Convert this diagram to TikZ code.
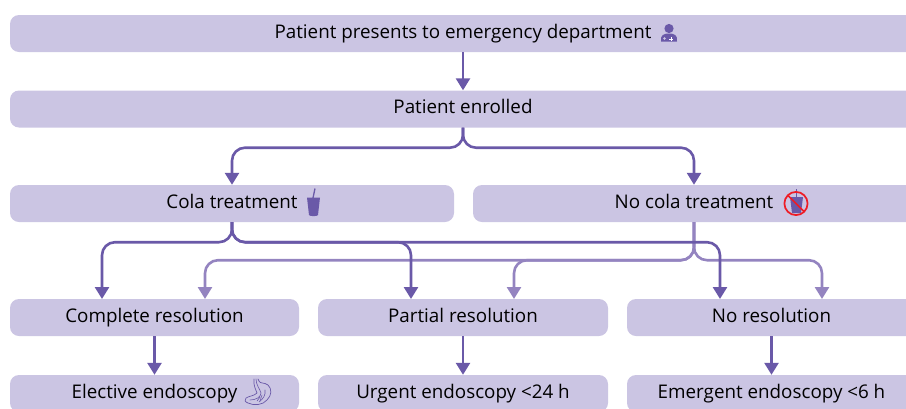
\documentclass[tikz,border=0pt]{standalone}
\usepackage{fontspec}
\setmainfont{Open Sans}
\usetikzlibrary{arrows.meta}
\definecolor{boxc}{HTML}{CBC5E3}
\definecolor{dark}{HTML}{6A59A8}
\definecolor{lite}{HTML}{9484C0}
\definecolor{noc}{HTML}{EE1C25}
\tikzset{
  x=1pt,y=-1pt,
  bx/.style={fill=boxc,rounded corners=9pt,inner sep=0pt,minimum height=37pt,font=\fontsize{18.8}{22}\selectfont,text=black,text height=13.4pt,text depth=3.6pt},
  da/.style={draw=dark,line width=2.6pt,-{Triangle[width=14pt,length=12pt]},rounded corners=13pt},
  la/.style={draw=lite,line width=2.6pt,-{Triangle[width=14pt,length=12pt]},rounded corners=13pt},
}
\begin{document}
\begin{tikzpicture}
\useasboundingbox (0,0) rectangle (906,408);
\clip (0,0) rectangle (906,408);
\node[bx,minimum width=906pt] (top) at (463,33.5) {Patient presents to emergency department};
\node[bx,minimum width=906pt] (en) at (463,109) {Patient enrolled};
\node[bx,minimum width=444pt] (cola) at (232,203.5) {Cola treatment};
\node[bx,minimum width=442pt] (no) at (694,203.5) {No cola treatment};
\node[bx,minimum width=289pt] (cr) at (154.5,317.5) {Complete resolution};
\node[bx,minimum width=290pt] (pr) at (463,317.5) {Partial resolution};
\node[bx,minimum width=289pt] (nr) at (771.5,317.5) {No resolution};
\node[bx,minimum width=289pt] (ee) at (154.5,393.5) {Elective endoscopy};
\node[bx,minimum width=290pt] (ue) at (463,393.5) {Urgent endoscopy <24 h};
\node[bx,minimum width=289pt] (me) at (771.5,393.5) {Emergent endoscopy <6 h};
% connectors
\draw[da] (top.south) -- (en.north);
\draw[da] (en.south) -- ++(0,20) -| (cola.north);
\draw[da] (en.south) -- ++(0,20) -| (no.north);
\coordinate (c1) at (102,299);
\coordinate (c2) at (411,299);
\coordinate (c3) at (720,299);
\coordinate (n1) at (205,299);
\coordinate (n2) at (514,299);
\coordinate (n3) at (822,299);
\draw[la] (no.south) -- ++(0,38) -| (n1);
\draw[la] (no.south) -- ++(0,38) -| (n2);
\draw[la] (no.south) -- ++(0,38) -| (n3);
\draw[da] (cola.south) -- ++(0,20) -| (c1);
\draw[da] (cola.south) -- ++(0,20) -| (c2);
\draw[da] (cola.south) -- ++(0,20) -| (c3);
\draw[da] (cr.south) -- (ee.north);
\draw[da] (pr.south) -- (ue.north);
\draw[da] (nr.south) -- (me.north);
% doctor icon
\fill[dark] (669,28.5) circle (4.6);
\fill[dark] (661,41.5) .. controls (660,35) and (664,33.5) .. (669,33.5) .. controls (674,33.5) and (678,35) .. (677,41.5) -- cycle;
\fill[boxc] (664.5,38.5) circle (1.3);
\draw[white,line width=1pt] (669,39) -- (673,39) (671,37) -- (671,41);
% cola cup
\fill[dark] (307,197.5) -- (320,197.5) -- (318,215) .. controls (317,216.5) and (310,216.5) .. (309,215) -- cycle;
\draw[dark,line width=1.3pt] (313,198) -- (315,188.5);
% no cola
\fill[dark] (790,197) -- (803,197) -- (801,213) -- (792,213) -- cycle;
\draw[dark,line width=1.3pt] (796.5,197) -- (796.5,189);
\draw[noc,line width=1.7pt] (796,203.5) circle (11.6);
\draw[noc,line width=1.7pt] (788,195.5) -- (804,211.5);
% stomach
\draw[dark,line width=.7pt,line cap=round,line join=round] (254,379) .. controls (253,385) and (256,390) .. (257,393) .. controls (254,396) and (249,396) .. (246,398) .. controls (244,400) and (245,402) .. (248,403) .. controls (254,406) and (263,405) .. (267,400) .. controls (272,395) and (272,389) .. (268,385) .. controls (264,382) and (260,384) .. (259,381) -- (258,379);
\draw[dark,line width=.6pt,line cap=round] (256,379) .. controls (256,385) and (260,389) .. (261,393) .. controls (261,397) and (256,400) .. (250,400);
\draw[dark,line width=.6pt,line cap=round] (265,390) .. controls (266,395) and (263,399) .. (259,402);
\draw[dark,line width=.6pt,line cap=round] (262,395) -- (260,401) (260,397) -- (257,401);
\end{tikzpicture}
\end{document}
